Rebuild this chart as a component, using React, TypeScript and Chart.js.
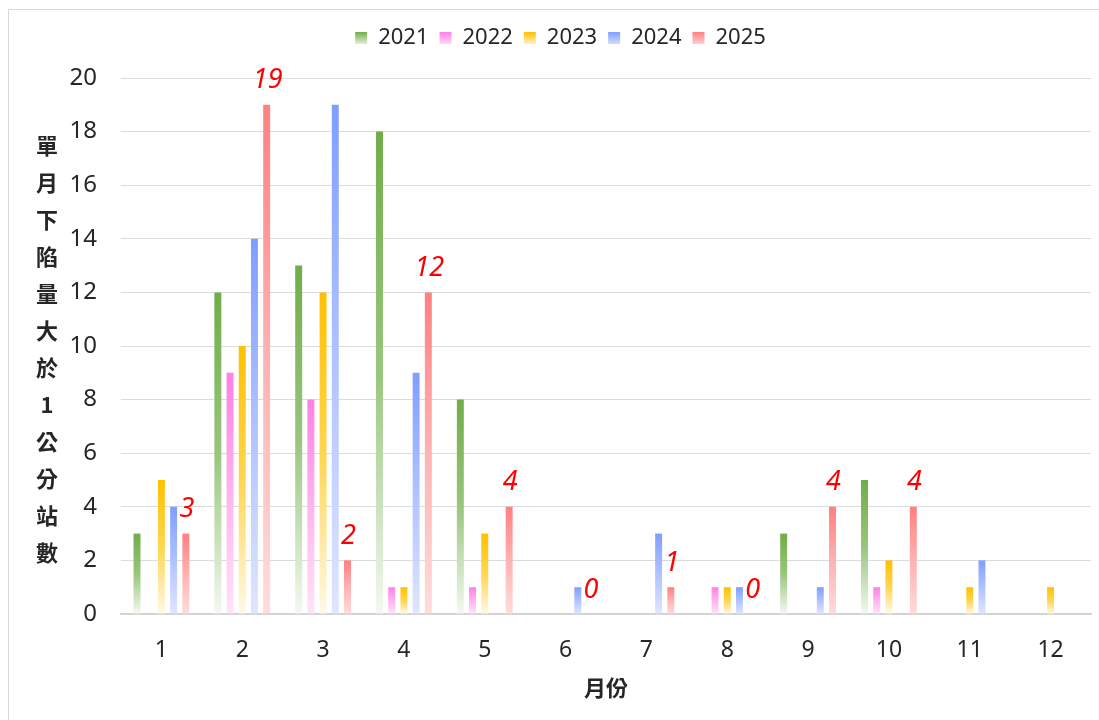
import React, { useEffect, useRef } from "react";
import { Chart, registerables } from "chart.js";

Chart.register(...registerables);

const months = ["1", "2", "3", "4", "5", "6", "7", "8", "9", "10", "11", "12"];
const years = ["2021", "2022", "2023", "2024", "2025"];
const v2021 = [3, 12, 13, 18, 8, 0, 0, 0, 3, 5, 0, 0];
const v2022 = [0, 9, 8, 1, 1, 0, 0, 1, 0, 1, 0, 0];
const v2023 = [5, 10, 12, 1, 3, 0, 0, 1, 0, 2, 1, 1];
const v2024 = [4, 14, 19, 9, 0, 1, 3, 1, 1, 0, 2, 0];
const v2025: (number | null)[] = [3, 19, 2, 12, 4, 0, 1, 0, 4, 4, null, null];
const yTicks = [0, 2, 4, 6, 8, 10, 12, 14, 16, 18, 20];
const yTitle = "單月下陷量大於1公分站數";
const xTitle = "月份";

const palettes: string[][] = [
  ["#70AD47", "#98C67D", "#F4F9F1"],
  ["#FF80E6", "#FFB4EF", "#FFE4F8"],
  ["#FFC000", "#FFD650", "#FFF9E8"],
  ["#809EFF", "#B0C3FF", "#DFE6FF"],
  ["#FF8080", "#FFB2B2", "#FFDCDC"],
];

const FONT = '"Noto Sans", "Noto Sans CJK TC", sans-serif';
const CJK = '"Noto Sans CJK TC", "Noto Sans", sans-serif';

function makeBg(stops: string[]) {
  return (c: any) => {
    const chart = c.chart;
    const ys = chart.scales && chart.scales.y;
    if (c.type !== "data" || !ys || !chart.chartArea) return stops[0];
    const v = c.raw == null ? 0 : c.raw;
    const top = ys.getPixelForValue(v);
    const bottom = ys.getPixelForValue(0);
    if (!(bottom - top > 0.5)) return stops[0];
    const g = chart.ctx.createLinearGradient(0, top, 0, bottom);
    g.addColorStop(0, stops[0]);
    g.addColorStop(0.5, stops[1]);
    g.addColorStop(1, stops[2]);
    return g;
  };
}

const legendSpacePlugin = {
  id: "legendSpace",
  afterInit(chart: any) {
    const lg = chart.legend;
    if (!lg || lg.__patched) return;
    const orig = lg.fit;
    lg.fit = function () {
      orig.call(this);
      this.height += 19;
    };
    lg.__patched = true;
  },
  afterLayout(chart: any) {
    const lg = chart.legend;
    if (!lg) return;
    lg.left += 15;
    lg.right += 15;
  },
  beforeDraw(chart: any) {
    const lg = chart.legend;
    if (!lg || !lg.legendItems || !lg.legendHitBoxes) return;
    lg.legendItems.forEach((item: any, i: number) => {
      const hb = lg.legendHitBoxes[i];
      if (!hb) return;
      const g = chart.ctx.createLinearGradient(0, hb.top + 5, 0, hb.top + 19);
      g.addColorStop(0, palettes[i][0]);
      g.addColorStop(1, palettes[i][2]);
      item.fillStyle = g;
    });
  },
};

const labelPlugin = {
  id: "labels2025",
  afterDatasetsDraw(chart: any) {
    const meta = chart.getDatasetMeta(4);
    const ctx = chart.ctx;
    ctx.save();
    ctx.fillStyle = "#FF0000";
    ctx.font = `italic 27px ${FONT}`;
    ctx.textAlign = "center";
    ctx.textBaseline = "middle";
    meta.data.forEach((el: any, i: number) => {
      const v = v2025[i];
      if (v == null) return;
      ctx.fillText(String(v), el.x + 1, el.y - 24);
    });
    ctx.restore();
  },
};

const yTitlePlugin = {
  id: "yTitleStack",
  afterDraw(chart: any) {
    const ctx = chart.ctx;
    ctx.save();
    ctx.fillStyle = "#262626";
    ctx.font = `bold 22px ${CJK}`;
    ctx.textAlign = "center";
    ctx.textBaseline = "middle";
    const chars = Array.from(yTitle);
    const startY = 146;
    const step = 37;
    chars.forEach((ch, i) => {
      ctx.fillText(ch, 47, startY + i * step);
    });
    ctx.restore();
  },
};

export default function App() {
  const ref = useRef<HTMLCanvasElement | null>(null);
  useEffect(() => {
    if (!ref.current) return;
    const series = [v2021, v2022, v2023, v2024, v2025];
    const chart = new Chart(ref.current, {
      type: "bar",
      data: {
        labels: months,
        datasets: years.map((y, i) => ({
          label: y,
          data: series[i] as any,
          backgroundColor: makeBg(palettes[i]) as any,
          borderWidth: 0,
          barPercentage: 0.57,
          categoryPercentage: 0.755,
        })),
      },
      options: {
        responsive: false,
        animation: false,
        devicePixelRatio: 1,
        layout: { padding: { top: 16, right: 8, bottom: 0, left: 0 } },
        plugins: {
          tooltip: { enabled: false },
          legend: {
            position: "top",
            labels: {
              font: { family: FONT, size: 22 },
              color: "#262626",
              boxWidth: 12,
              boxHeight: 12,
              padding: 11,
              generateLabels: (chart: any) =>
                chart.data.datasets.map((ds: any, i: number) => ({
                  text: ds.label,
                  fillStyle: palettes[i][0],
                  strokeStyle: "rgba(0,0,0,0)",
                  lineWidth: 0,
                  hidden: false,
                  datasetIndex: i,
                  fontColor: "#262626",
                })),
            },
          },
        },
        scales: {
          x: {
            grid: { display: false, drawTicks: false },
            border: { display: true, color: "#D0D0D0", width: 1.5 },
            ticks: { font: { family: FONT, size: 23 }, color: "#262626", padding: 23 },
            title: {
              display: true,
              text: xTitle,
              font: { family: CJK, size: 22, weight: "bold" },
              color: "#262626",
              padding: { top: 0, bottom: 19 },
            },
            afterFit: (s: any) => {
              s.height = 106;
            },
          },
          y: {
            min: 0,
            max: 20,
            afterBuildTicks: (s: any) => {
              s.ticks = yTicks.map((v) => ({ value: v }));
            },
            grid: { color: "#DCDCDC", lineWidth: 1, drawTicks: false },
            border: { display: false },
            ticks: { font: { family: FONT, size: 24 }, color: "#262626", padding: 24 },
            afterFit: (s: any) => {
              s.width = 121;
            },
          },
        },
      },
      plugins: [legendSpacePlugin, labelPlugin, yTitlePlugin],
    });
    return () => chart.destroy();
  }, []);
  return (
    <div>
      <div
        style={{
          position: "fixed",
          left: 8,
          top: 9,
          right: 0,
          bottom: 0,
          borderTop: "1px solid #D9D9D9",
          borderLeft: "1px solid #D9D9D9",
        }}
      />
      <canvas
        ref={ref}
        width={1099}
        height={720}
        style={{ position: "fixed", left: 0, top: 0, width: 1099, height: 720 }}
      />
    </div>
  );
}
